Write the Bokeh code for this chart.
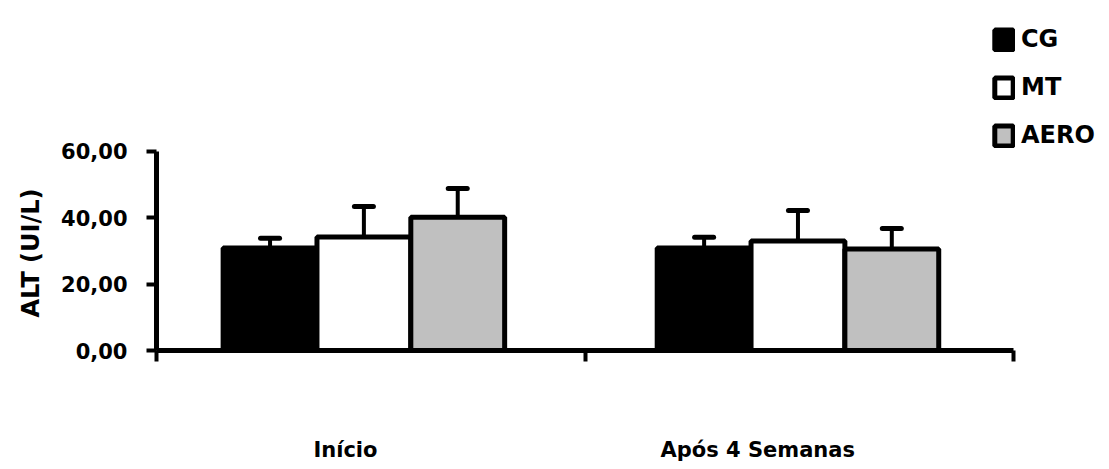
from bokeh.plotting import figure
from bokeh.models import Range1d, FixedTicker, Legend, LegendItem, ColumnDataSource, Title
from bokeh.embed import file_html
from bokeh.resources import INLINE

# ---- data ----
categories = ["Início", "Após 4 Semanas"]
series = ["CG", "MT", "AERO"]
cg_vals = [30.9, 30.9]
cg_err = [2.9, 3.2]
mt_vals = [34.2, 33.0]
mt_err = [9.2, 9.2]
aero_vals = [40.2, 30.6]
aero_err = [8.6, 6.2]
y_ticks = [0, 20, 40, 60]
y_tick_labels = ["0,00", "20,00", "40,00", "60,00"]
y_label = "ALT (UI/L)"

# ---- layout constants ----
group_centers = [0.484, 1.497]
label_positions = [0.441, 1.403]
bar_w = 0.219
offsets = [-bar_w, 0.0, bar_w]
colors = ["black", "white", "#c0c0c0"]
FONT = "DejaVu Sans"

p = figure(width=1103, height=468, output_backend="svg", toolbar_location=None,
           x_range=Range1d(0, 2.2007), y_range=Range1d(0, 105.5),
           min_border_left=156, min_border_right=4, min_border_top=0,
           min_border_bottom=118)
p.background_fill_color = "white"
p.border_fill_color = "white"
p.outline_line_color = None
p.xgrid.visible = False
p.ygrid.visible = False

all_vals = [cg_vals, mt_vals, aero_vals]
all_errs = [cg_err, mt_err, aero_err]
renderers = []
for i, name in enumerate(series):
    xs = [c + offsets[i] for c in group_centers]
    src = ColumnDataSource(dict(x=xs, top=all_vals[i],
                                up=[v + e for v, e in zip(all_vals[i], all_errs[i])]))
    r = p.vbar(x="x", top="top", bottom=0, width=bar_w, source=src,
               fill_color=colors[i], line_color="black", line_width=5)
    renderers.append((name, r, src))

for name, r, src in renderers:
    p.segment(x0="x", y0="top", x1="x", y1="up", source=src,
              line_color="black", line_width=4)
    p.scatter(x="x", y="up", source=src, marker="dash", size=19,
              line_color="black", line_width=5, line_cap="round")

legend = Legend(items=[LegendItem(label=n, renderers=[r]) for n, r, _ in renderers],
                location=(836, 201), padding=0, margin=0, spacing=20,
                glyph_width=23, glyph_height=25, label_height=24, label_standoff=6,
                border_line_color=None, background_fill_alpha=0,
                label_text_font=FONT, label_text_font_style="bold",
                label_text_font_size="24px", label_text_color="black")
p.add_layout(legend, "center")

# y axis
ya = p.yaxis[0]
ya.bounds = (0, 60)
ya.ticker = FixedTicker(ticks=y_ticks, minor_ticks=[])
ya.major_label_overrides = {t: l for t, l in zip(y_ticks, y_tick_labels)}
ya.axis_line_width = 5
ya.axis_line_color = "black"
ya.major_tick_line_width = 4
ya.major_tick_out = 10
ya.major_tick_in = 0
ya.minor_tick_line_color = None
ya.major_label_text_font = FONT
ya.major_label_text_font_style = "bold"
ya.major_label_text_font_size = "21px"
ya.major_label_text_color = "black"
ya.major_label_standoff = 19

ytitle = Title(text=y_label, align="left", offset=33, standoff=26,
               vertical_align="middle", text_font=FONT, text_font_style="bold",
               text_font_size="24px", text_color="black")
p.add_layout(ytitle, "left")

# x axis
xa = p.xaxis[0]
xa.bounds = (0, 2)
xa.ticker = FixedTicker(ticks=label_positions, minor_ticks=[0, 1, 2])
xa.major_label_overrides = {t: l for t, l in zip(label_positions, categories)}
xa.axis_line_width = 5
xa.axis_line_color = "black"
xa.major_tick_out = 0
xa.major_tick_in = 0
xa.major_tick_line_color = None
xa.minor_tick_out = 11
xa.minor_tick_in = 0
xa.minor_tick_line_width = 4
xa.minor_tick_line_color = "black"
xa.major_label_text_font = FONT
xa.major_label_text_font_style = "bold"
xa.major_label_text_font_size = "21px"
xa.major_label_text_color = "black"
xa.major_label_standoff = 76

open("out.html", "w").write(file_html(p, INLINE))
